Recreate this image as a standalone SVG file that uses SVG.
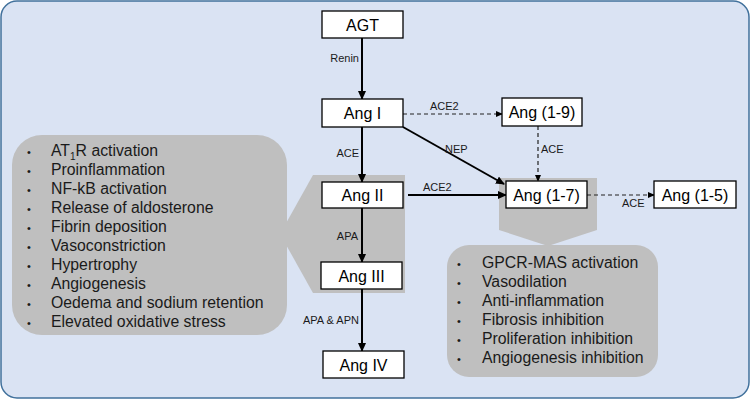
<svg xmlns="http://www.w3.org/2000/svg" width="751" height="400" viewBox="0 0 751 400">
<defs>
<style>
.box{fill:#fff;stroke:#000;stroke-width:1.3}
.bt{font-family:"Liberation Sans",Arial,sans-serif;font-size:16px;fill:#000;text-anchor:middle}
.lb{font-family:"Liberation Sans",Arial,sans-serif;font-size:11px;fill:#1a1a1a}
.li{font-family:"Liberation Sans",Arial,sans-serif;font-size:15.8px;fill:#1a1a1a}
.bu{font-family:"Liberation Sans",Arial,sans-serif;font-size:11px;fill:#1a1a1a}
.gray{fill:#bfbfbf}
.solid{stroke:#000;stroke-width:2;fill:none}
.dash{stroke:#222;stroke-width:1.2;stroke-dasharray:4 3;fill:none}
</style>
<marker id="ah" markerUnits="userSpaceOnUse" markerWidth="9" markerHeight="8" refX="8" refY="4" orient="auto">
<path d="M0,0 L9,4 L0,8 Z" fill="#000"/>
</marker>
<marker id="ahd" markerUnits="userSpaceOnUse" markerWidth="7" markerHeight="6" refX="6" refY="3" orient="auto">
<path d="M0,0 L7,3 L0,6 Z" fill="#000"/>
</marker>
</defs>
<rect x="1" y="1" width="748" height="397" rx="16" fill="#dae3f3" stroke="#41719c" stroke-width="1.5"/>

<g id="effects-left">
<rect class="gray" x="12" y="135" width="275" height="200" rx="30"/>
<polygon class="gray" points="313,175 405,175 405,293 313,293 280,234"/>
<g class="bu"><text x="27" y="156">•</text><text x="27" y="175">•</text><text x="27" y="194">•</text><text x="27" y="213">•</text><text x="27" y="232">•</text><text x="27" y="251">•</text><text x="27" y="270">•</text><text x="27" y="289">•</text><text x="27" y="308">•</text><text x="27" y="327">•</text></g>
<text class="li" x="51" y="156">AT<tspan font-size="10" dy="4">1</tspan><tspan dy="-4">R activation</tspan></text>
<text class="li" x="51" y="175">Proinflammation</text>
<text class="li" x="51" y="194">NF-kB activation</text>
<text class="li" x="51" y="213">Release of aldosterone</text>
<text class="li" x="51" y="232">Fibrin deposition</text>
<text class="li" x="51" y="251">Vasoconstriction</text>
<text class="li" x="51" y="270">Hypertrophy</text>
<text class="li" x="51" y="289">Angiogenesis</text>
<text class="li" x="51" y="308">Oedema and sodium retention</text>
<text class="li" x="51" y="327">Elevated oxidative stress</text>
</g>

<g id="effects-right">
<polygon class="gray" points="499,178 597,178 597,230 548,246 499,230"/>
<rect class="gray" x="447" y="245" width="211" height="132" rx="22"/>
<g class="bu"><text x="457" y="268">•</text><text x="457" y="287">•</text><text x="457" y="306">•</text><text x="457" y="325">•</text><text x="457" y="344">•</text><text x="457" y="363">•</text></g>
<text class="li" x="482" y="268">GPCR-MAS activation</text>
<text class="li" x="482" y="287">Vasodilation</text>
<text class="li" x="482" y="306">Anti-inflammation</text>
<text class="li" x="482" y="325">Fibrosis inhibition</text>
<text class="li" x="482" y="344">Proliferation inhibition</text>
<text class="li" x="482" y="363">Angiogenesis inhibition</text>
</g>

<g id="connectors">
<line class="solid" x1="362" y1="38" x2="362" y2="99" marker-end="url(#ah)"/>
<line class="solid" x1="362" y1="127" x2="362" y2="182" marker-end="url(#ah)"/>
<line class="solid" x1="362" y1="208" x2="362" y2="262" marker-end="url(#ah)"/>
<line class="solid" x1="362" y1="289" x2="362" y2="351" marker-end="url(#ah)"/>
<line class="dash" x1="403" y1="114" x2="502" y2="114" marker-end="url(#ahd)"/>
<line class="dash" x1="538" y1="126" x2="538" y2="181" marker-end="url(#ahd)"/>
<line class="solid" x1="403" y1="127" x2="504" y2="184" marker-end="url(#ah)"/>
<line class="solid" x1="408" y1="195" x2="506" y2="195" marker-end="url(#ah)"/>
<line class="dash" x1="587" y1="195" x2="654" y2="195" marker-end="url(#ahd)"/>
<text class="lb" x="359" y="62" text-anchor="end">Renin</text>
<text class="lb" x="359" y="157" text-anchor="end">ACE</text>
<text class="lb" x="358" y="240" text-anchor="end">APA</text>
<text class="lb" x="359" y="324" text-anchor="end">APA &amp; APN</text>
<text class="lb" x="430" y="110">ACE2</text>
<text class="lb" x="541" y="153">ACE</text>
<text class="lb" x="445" y="153">NEP</text>
<text class="lb" x="423" y="191">ACE2</text>
<text class="lb" x="622" y="207">ACE</text>
</g>

<g id="AGT"><rect class="box" x="322" y="11" width="81" height="27"/><text class="bt" x="362.5" y="30.5">AGT</text></g>
<g id="AngI"><rect class="box" x="322" y="99" width="81" height="28"/><text class="bt" x="362.5" y="119">Ang I</text></g>
<g id="AngII"><rect class="box" x="322" y="182" width="81" height="26"/><text class="bt" x="362.5" y="201">Ang II</text></g>
<g id="AngIII"><rect class="box" x="321" y="262" width="81" height="27"/><text class="bt" x="361.5" y="281.5">Ang III</text></g>
<g id="AngIV"><rect class="box" x="323" y="351" width="81" height="27"/><text class="bt" x="363.5" y="370.5">Ang IV</text></g>
<g id="Ang1-9"><rect class="box" x="502" y="98" width="80" height="28"/><text class="bt" x="542" y="118">Ang (1-9)</text></g>
<g id="Ang1-7"><rect class="box" x="506" y="181" width="81" height="27"/><text class="bt" x="546.5" y="200.5">Ang (1-7)</text></g>
<g id="Ang1-5"><rect class="box" x="654" y="181" width="82" height="27"/><text class="bt" x="695" y="200.5">Ang (1-5)</text></g>
</svg>
